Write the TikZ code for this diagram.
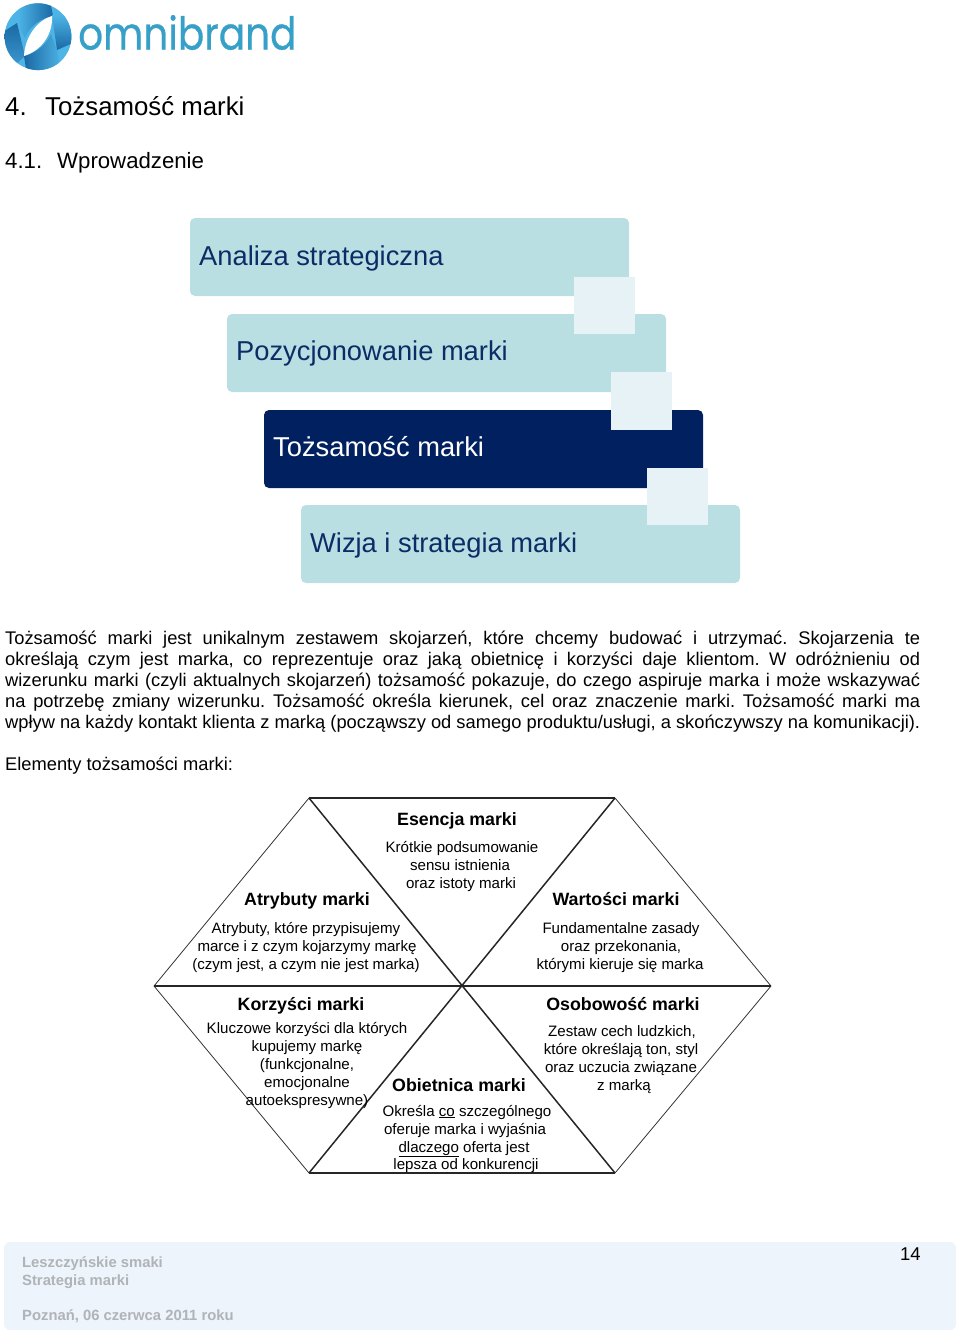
\documentclass[tikz,border=0pt]{standalone}
\usepackage{fontspec}
\setmainfont{Liberation Sans}
\newfontfamily\logofont[FakeBold=0.7]{Poppins}
\usetikzlibrary{shadings}
\frenchspacing
\definecolor{boxlight}{HTML}{B9DFE3}
\definecolor{boxsq}{HTML}{E6F2F5}
\definecolor{boxdark}{HTML}{00205F}
\definecolor{boxtxt}{HTML}{0C2C66}
\definecolor{footbg}{HTML}{EDF4FB}
\definecolor{foottxt}{HTML}{B0B3B7}
\definecolor{logoblue}{HTML}{37A0C9}
\definecolor{logolight}{HTML}{4DB4E6}
\definecolor{logodark}{HTML}{1A68A4}
\tikzset{
 stagebox/.style={fill=boxlight,rounded corners=5pt},
 stagesq/.style={fill=boxsq},
 stagetxt/.style={anchor=base west,inner sep=0pt,font=\fontsize{27.3}{30}\selectfont,text=boxtxt},
 plain/.style={anchor=base west,inner sep=0pt},
 bodyline/.style={anchor=base west,inner sep=0pt,font=\fontsize{18.3}{20}\selectfont},
 hhead/.style={anchor=base,inner sep=0pt,font=\bfseries\fontsize{17.8}{20}\selectfont},
 htxt/.style={anchor=base,inner sep=0pt,font=\fontsize{15.1}{18}\selectfont},
 footline/.style={anchor=base west,inner sep=0pt,font=\bfseries\fontsize{14.8}{16}\selectfont,text=foottxt},
 thickedge/.style={line width=1.5pt,draw=black!85},
 thinedge/.style={line width=0.8pt,draw=black!80},
}
\begin{document}
\begin{tikzpicture}[x=1pt,y=-1pt]
\useasboundingbox (0,0) rectangle (960,1331);
% logo
\begin{scope}
\clip (38,36.7) circle (33.4);
\fill[logolight] (0,0) rectangle (75,75);
\shade[left color=logolight,right color=logodark] (18,26) -- (18,0) -- (50,0) -- (53,16) .. controls (42,18) and (30,25) .. (25,38) -- cycle;
\shade[top color=logodark,bottom color=logolight!70!logodark] (0,34) -- (17,23) -- (25,56) -- (10,70) -- (0,60) -- cycle;
\shade[left color=logodark,right color=logolight] (24,56) .. controls (36,53) and (46,45) .. (51,34) -- (57,50) -- (62,75) -- (27,75) -- cycle;
\shade[top color=logolight,bottom color=logodark] (52,15) -- (75,15) -- (75,42) -- (57,50) -- cycle;
\end{scope}
\fill[white] (52,16) .. controls (38,20) and (25,36) .. (24,56) .. controls (40,51) and (53,36) .. (52,16) -- cycle;
\node[anchor=base west,inner sep=0pt,font=\logofont\fontsize{39}{40}\selectfont,text=logoblue] (logotxt) at (78,49.5) {\scalebox{1}[1.16]{omnibrand}};
% headings
\node[plain,font=\fontsize{25.8}{28}\selectfont] (h1n) at (5,115) {4.};
\node[plain,font=\fontsize{25.8}{28}\selectfont] (h1) at (45,115) {Tożsamość marki};
\node[plain,font=\fontsize{22.2}{24}\selectfont] (h2n) at (5,168) {4.1.};
\node[plain,font=\fontsize{22.2}{24}\selectfont] (h2) at (57,168) {Wprowadzenie};
% stages
\fill[stagebox] (190,218) rectangle (629,296);
\fill[stagebox] (227,314) rectangle (666,392);
\fill[stagebox,fill=boxdark] (264,410) rectangle (703,488);
\fill[stagebox] (301,505) rectangle (740,583);
\fill[stagesq] (574,277) rectangle (635,334);
\fill[stagesq] (611,372) rectangle (672,430);
\fill[stagesq] (647,468) rectangle (708,525);
\node[stagetxt] (s1) at (199,265) {Analiza strategiczna};
\node[stagetxt] (s2) at (236,360) {Pozycjonowanie marki};
\node[stagetxt,text=white] (s3) at (273,456) {Tożsamość marki};
\node[stagetxt] (s4) at (310,552) {Wizja i strategia marki};
% body
\node[bodyline] (b1) at (5,644.5) {\makebox[915pt][s]{Tożsamość marki jest unikalnym zestawem skojarzeń, które chcemy budować i utrzymać. Skojarzenia te}};
\node[bodyline] (b2) at (5,665.5) {\makebox[915pt][s]{określają czym jest marka, co reprezentuje oraz jaką obietnicę i korzyści daje klientom. W odróżnieniu od}};
\node[bodyline] (b3) at (5,686.5) {\makebox[915pt][s]{wizerunku marki (czyli aktualnych skojarzeń) tożsamość pokazuje, do czego aspiruje marka i może wskazywać}};
\node[bodyline] (b4) at (5,707.5) {\makebox[915pt][s]{na potrzebę zmiany wizerunku. Tożsamość określa kierunek, cel oraz znaczenie marki. Tożsamość marki ma}};
\node[bodyline] (b5) at (5,728.5) {\makebox[915pt][s]{wpływ na każdy kontakt klienta z marką (począwszy od samego produktu/usługi, a skończywszy na komunikacji).}};
\node[bodyline] (b6) at (5,770) {Elementy tożsamości marki:};
% hexagon
\coordinate (L) at (154,986);
\coordinate (TL) at (309,798);
\coordinate (TR) at (615,798);
\coordinate (R) at (771,986);
\coordinate (BR) at (615,1173);
\coordinate (BL) at (309,1173);
\coordinate (C) at (463,986);
\draw[thinedge] (L) -- (TL);
\draw[thinedge] (TR) -- (R);
\draw[thinedge] (L) -- (BL);
\draw[thinedge] (R) -- (BR);
\draw[thickedge] (TL) -- (TR);
\draw[thickedge] (BL) -- (BR);
\draw[thickedge] (L) -- (R);
\draw[thickedge] (TL) -- (BR);
\draw[thickedge] (TR) -- (BL);
% hex texts
\node[hhead] (e0) at (457,825) {Esencja marki};
\node[htxt] (e1) at (462,852) {Krótkie podsumowanie};
\node[htxt] (e2) at (460,870) {sensu istnienia};
\node[htxt] (e3) at (461,888) {oraz istoty marki};
\node[hhead] (a0) at (307,905) {Atrybuty marki};
\node[htxt] (a1) at (306,933) {Atrybuty, które przypisujemy};
\node[htxt] (a2) at (307,951) {marce i z czym kojarzymy markę};
\node[htxt] (a3) at (306,969) {(czym jest, a czym nie jest marka)};
\node[hhead] (w0) at (616,905) {Wartości marki};
\node[htxt] (w1) at (621,933) {Fundamentalne zasady};
\node[htxt] (w2) at (621,951) {oraz przekonania,};
\node[htxt] (w3) at (620,969) {którymi kieruje się marka};
\node[hhead] (k0) at (301,1010) {Korzyści marki};
\node[htxt] (k1) at (307,1033) {Kluczowe korzyści dla których};
\node[htxt] (k2) at (307,1051) {kupujemy markę};
\node[htxt] (k3) at (307,1069) {(funkcjonalne,};
\node[htxt] (k4) at (307,1087) {emocjonalne};
\node[htxt] (k5) at (307,1105) {autoekspresywne)};
\node[hhead] (o0) at (623,1010) {Osobowość marki};
\node[htxt] (o1) at (622,1036) {Zestaw cech ludzkich,};
\node[htxt] (o2) at (621,1054) {które określają ton, styl};
\node[htxt] (o3) at (621,1072) {oraz uczucia związane};
\node[htxt] (o4) at (624,1090) {z marką};
\node[hhead] (p0) at (459,1091) {Obietnica marki};
\node[htxt] (p1) at (467,1116) {Określa \underline{co} szczególnego};
\node[htxt] (p2) at (465,1134) {oferuje marka i wyjaśnia};
\node[htxt] (p3) at (464,1152) {\underline{dlaczego} oferta jest};
\node[htxt] (p4) at (466,1169) {lepsza od konkurencji};
% footer
\fill[footbg,rounded corners=6pt] (4,1242) rectangle (956,1330);
\node[footline] (f1) at (22,1267) {Leszczyńskie smaki};
\node[footline] (f2) at (22,1285) {Strategia marki};
\node[footline] (f3) at (22,1320) {Poznań, 06 czerwca 2011 roku};
\node[plain,font=\fontsize{18.5}{20}\selectfont] (pg) at (900,1260) {14};
\end{tikzpicture}
\end{document}
